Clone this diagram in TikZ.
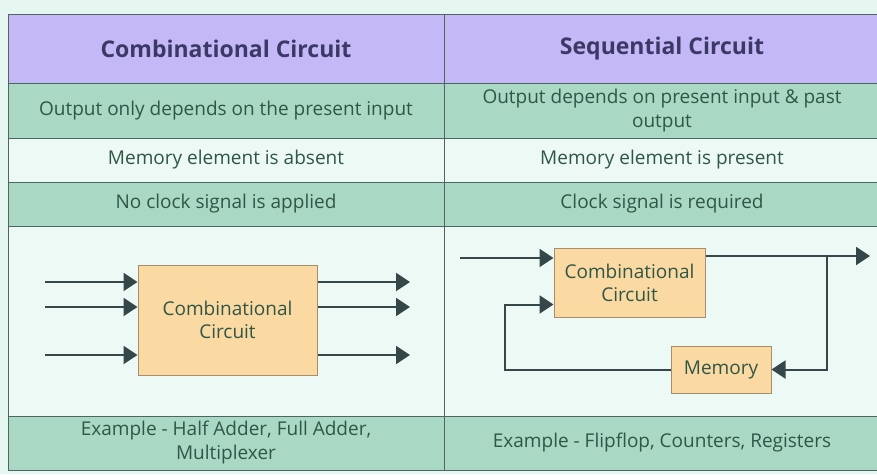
\documentclass[tikz,border=0pt]{standalone}
\usepackage{fontspec}
\setmainfont{Open Sans}
\usetikzlibrary{arrows.meta,positioning,calc}
\definecolor{bgmint}{HTML}{E6F7F1}
\definecolor{cellpale}{HTML}{ECF9F4}
\definecolor{headpurple}{HTML}{C4B8F6}
\definecolor{rowgreen}{HTML}{A9D9C4}
\definecolor{gridline}{HTML}{4F6660}
\definecolor{headtext}{HTML}{3B3966}
\definecolor{rowtext}{HTML}{2F5646}
\definecolor{boxfill}{HTML}{FBD9A2}
\definecolor{boxline}{HTML}{A68E6C}
\definecolor{wire}{HTML}{36474A}
\begin{document}
\begin{tikzpicture}[x=1pt,y=-1pt,>={Triangle[length=14pt,width=18pt]},
  cell/.style={draw=gridline,line width=1pt,minimum width=436pt,inner sep=0pt},
  headcell/.style={cell,fill=headpurple,font=\fontsize{23}{27}\selectfont\bfseries,text=headtext},
  greencell/.style={cell,fill=rowgreen,font=\fontsize{19}{24}\selectfont,text=rowtext,align=center},
  palecell/.style={cell,fill=cellpale,font=\fontsize{19}{24}\selectfont,text=rowtext,align=center},
  blockbox/.style={draw=boxline,line width=1pt,fill=boxfill,font=\fontsize{19}{23}\selectfont,text=rowtext,align=center,inner sep=0pt},
  wireline/.style={wire,line width=2pt}]
\useasboundingbox (0,0) rectangle (877,474);
\fill[bgmint] (0,0) rectangle (877,474);
% header
\node[headcell,minimum height=69pt] (hdcomb) at (226,48.5) {Combinational Circuit};
\node[headcell,minimum height=69pt] (hdseq) at (662,48.5) {Sequential Circuit};
% rows
\node[greencell,minimum height=55pt] (outcomb) at (226,110.5) {Output only depends on the present input};
\node[greencell,minimum height=55pt] (outseq) at (662,110.5) {Output depends on present input \& past\\output};
\node[palecell,minimum height=44pt] (memcomb) at (226,160) {Memory element is absent};
\node[palecell,minimum height=44pt] (memseq) at (662,160) {Memory element is present};
\node[greencell,minimum height=44pt] (clkcomb) at (226,204) {No clock signal is applied};
\node[greencell,minimum height=44pt] (clkseq) at (662,204) {Clock signal is required};
\node[palecell,minimum height=190pt] (diagcomb) at (226,321) {};
\node[palecell,minimum height=190pt] (diagseq) at (662,321) {};
\node[greencell,minimum height=54pt] (excomb) at (226,443) {Example - Half Adder, Full Adder,\\Multiplexer};
\node[greencell,minimum height=54pt] (exseq) at (662,443) {Example - Flipflop, Counters, Registers};

% combinational block
\node[blockbox,minimum width=179pt,minimum height=110pt] (cc) at (227.5,320) {Combinational\\Circuit};
\coordinate (inA) at (45,282);
\coordinate (inB) at (45,307);
\coordinate (inC) at (45,355);
\coordinate (outA) at (410,282);
\coordinate (outB) at (410,307);
\coordinate (outC) at (410,355);
\foreach \p in {A,B,C}{
  \draw[wireline,->] (in\p) -- (in\p -| cc.west);
  \draw[wireline,->] (in\p -| cc.east) -- (out\p);
}

% sequential block
\node[blockbox,minimum width=151pt,minimum height=69pt] (sc) at (629.5,282.5) {Combinational\\Circuit};
\node[blockbox,minimum width=100pt,minimum height=47pt] (mem) at (721,369.5) {Memory};
\coordinate (seqin) at (460,258);
\coordinate (seqout) at (870,256);
\coordinate (tap) at (827,256);
\coordinate (back) at (505,369.5);
\draw[wireline,->] (seqin) -- (seqin -| sc.west);
\draw[wireline,->] (seqout -| sc.east) -- (seqout);
\draw[wireline,->] (tap) |- (mem.east);
\draw[wireline,->] (mem.west) -| (back) |- ($(sc.west)+(0,22)$);
\end{tikzpicture}
\end{document}
